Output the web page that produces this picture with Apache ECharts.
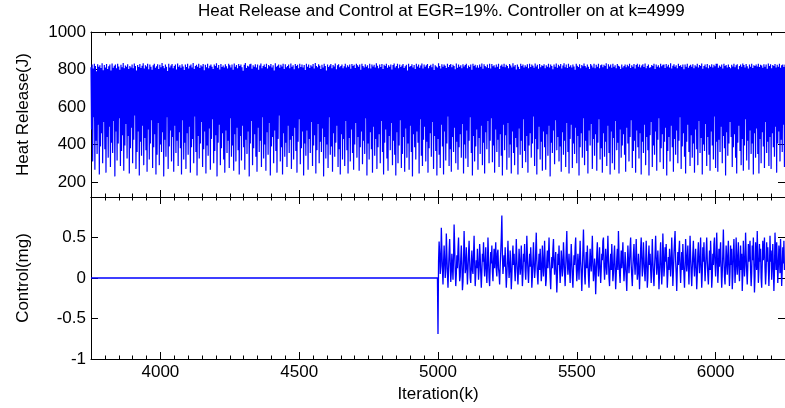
<!DOCTYPE html>
<html><head><meta charset="utf-8">
<script src="https://cdn.jsdelivr.net/npm/echarts@6/dist/echarts.min.js"></script>
<style>html,body{margin:0;padding:0;background:#fff}#c{width:785px;height:408px}</style>
</head><body><div id="c"></div>
<script>
// ---- data ----
const titleText = 'Heat Release and Control at EGR=19%. Controller on at k=4999';
const iterStart = 3750, iterEnd = 6250;
const heatStep = 2;
const ctrlStep = 2;
const xTicks = [4000, 4500, 5000, 5500, 6000];
const heatTicks = [200, 400, 600, 800, 1000];
const ctrlTicks = [-1, -0.5, 0, 0.5];
const heatRelease = [
812,480,826,310,805,545,831,265,818,420,790,350,828,505,815,240,822,390,808,460,833,300,796,520,
824,375,811,250,829,440,803,330,817,495,826,280,794,410,832,355,809,525,820,230,827,470,806,315,
830,405,816,540,799,285,825,365,812,450,834,260,807,395,821,510,815,325,828,445,802,245,819,380,
811,490,827,300,806,425,832,555,818,270,795,360,824,470,813,235,829,415,808,340,820,500,833,290,
805,435,822,370,816,255,830,480,801,320,826,405,814,530,798,275,823,385,831,455,809,240,817,345,
828,515,803,290,825,400,812,360,834,465,819,230,807,425,826,335,815,545,792,270,830,390,811,475,
821,310,829,440,806,255,818,500,827,355,800,420,832,285,814,465,823,380,809,240,828,530,816,320,
797,410,826,270,813,460,831,345,805,495,820,250,827,385,811,430,834,300,802,550,819,360,825,235,
814,445,830,325,808,405,822,520,816,280,829,375,796,470,825,245,812,395,831,340,806,485,820,265,
827,430,815,535,803,300,826,365,818,450,833,230,809,410,824,505,800,290,829,380,813,460,821,320,
810,250,828,475,817,355,805,420,830,275,822,540,811,335,826,395,798,260,832,455,815,310,824,490,
806,370,829,240,819,445,827,315,812,500,793,385,825,265,834,425,808,350,820,470,816,230,828,405,
831,525,804,290,823,380,815,455,828,335,810,255,826,490,799,360,821,420,832,280,807,545,818,325,
826,400,813,260,830,465,805,345,824,515,817,235,829,390,811,440,822,300,795,475,833,365,814,250,
820,430,827,555,809,310,825,385,816,240,831,460,803,335,828,410,812,280,819,500,826,355,807,425,
832,270,815,445,823,320,801,490,829,365,818,250,825,415,806,535,830,295,813,380,827,470,810,235,
824,405,797,340,831,475,814,265,826,430,808,355,822,520,816,285,829,395,805,450,834,245,819,370,
812,510,828,300,820,415,803,360,825,485,811,230,830,440,818,325,794,400,827,275,813,545,821,345,
829,390,807,255,824,460,816,335,832,410,801,500,822,280,828,375,812,240,819,455,826,320,806,430,
817,285,830,525,810,370,823,245,815,435,827,310,804,480,829,355,818,265,825,400,808,515,831,330,
822,440,814,260,826,385,798,470,831,295,819,420,810,350,828,540,815,235,823,405,806,320,830,465,
805,375,827,250,816,495,825,340,811,430,833,270,820,385,807,455,826,300,813,525,829,360,802,240,
825,410,818,480,831,325,809,260,822,445,815,370,827,515,800,290,824,420,832,345,811,235,819,465,
830,300,806,395,826,530,813,275,821,350,829,440,808,255,817,485,825,330,795,405,831,265,814,500,
819,360,828,230,811,455,824,385,803,320,830,470,816,410,826,245,809,535,821,340,832,285,805,425,
827,495,815,310,822,415,829,250,806,380,818,460,825,335,812,520,831,270,797,445,823,365,816,235,
810,430,833,345,819,275,805,505,828,390,814,240,826,470,820,315,808,405,830,550,813,285,824,375,
829,255,812,440,825,360,818,490,801,300,832,415,809,265,827,385,815,455,822,330,806,510,828,245,
816,400,824,325,830,475,807,280,821,420,813,545,826,355,799,235,831,445,818,310,825,390,811,480,
823,265,809,435,827,350,815,500,832,290,804,410,828,245,819,465,812,375,826,525,808,300,830,420,
805,540,829,305,817,395,822,250,810,480,826,360,814,425,831,280,803,455,820,340,827,235,815,505,
830,370,812,450,825,265,818,515,806,330,829,400,821,245,811,470,833,355,816,290,824,435,800,385,
826,240,815,485,803,345,830,420,819,275,827,535,810,365,822,305,814,445,828,250,807,395,831,460,
813,330,826,405,820,550,809,285,832,430,816,240,825,375,804,495,829,320,812,415,822,260,818,470,
828,385,806,265,823,455,815,340,830,500,811,230,826,410,819,355,801,475,827,295,814,530,832,370,
809,440,825,310,817,390,829,255,805,465,821,345,833,420,812,280,826,515,808,360,830,245,815,430,
822,505,811,275,827,405,816,350,799,490,831,300,820,445,813,235,828,385,806,460,824,330,817,540,
832,290,818,420,810,365,826,245,815,475,803,395,829,510,821,270,811,430,830,340,807,455,825,260,
814,410,831,535,806,320,822,380,827,250,812,460,825,335,818,415,833,285,804,500,828,355,816,240,
826,470,809,300,830,435,814,265,823,525,807,370,829,410,820,245,816,480,802,330,827,395,811,455,
819,345,827,255,812,490,825,405,817,310,831,440,808,530,822,275,814,365,829,420,805,250,824,475,
830,385,815,325,826,460,810,240,821,415,828,355,813,505,832,290,806,440,818,370,827,235,809,450,
812,520,824,280,819,395,830,345,803,470,826,260,815,425,822,540,810,305,831,380,817,455,825,270,
827,415,808,490,829,235,816,365,825,440,811,310,833,500,805,385,820,255,828,430,814,345,822,475,
806,300,830,420,818,545,823,270,813,390,827,460,801,335,826,245,815,415,831,505,809,360,820,285,
825,450,814,330,828,405,807,250,822,480,816,375,830,290,811,525,824,355,819,435,832,240,804,400,
818,365,826,510,812,285,829,440,806,345,823,260,815,470,828,395,810,320,825,550,817,275,830,415,
831,255,809,425,821,360,814,495,827,300,805,445,830,380,818,235,824,465,811,340,826,405,813,520,
807,440,825,280,816,385,830,455,812,330,822,245,828,410,801,500,819,365,827,290,815,430,832,260,
824,395,811,535,829,315,817,420,805,265,826,475,814,350,831,405,808,240,823,460,818,330,827,485,
816,350,830,245,813,430,825,300,821,465,809,390,828,275,815,520,826,355,804,415,832,285,819,440,
828,270,806,460,824,385,818,335,829,495,811,250,825,405,815,470,830,310,809,425,822,360,827,505,
813,280,826
];
const ctrlOffIters = [3750, 4998];
const ctrlOffValues = [0, 0];
const ctrlOnStart = 5000;
const controlValues = [
-0.69,0.2,0.45,0.3,0.05,0.15,0.62,0.35,0.1,-0.08,0.18,0.4,0.22,0.0,0.12,0.55,0.3,0.05,-0.12,0.1,0.32,0.48,0.2,-0.05,0.08,
0.3,0.15,-0.02,0.25,0.66,0.4,0.1,-0.1,0.05,0.28,0.12,0.35,0.5,0.18,-0.04,0.02,0.24,0.4,0.2,-0.15,-0.05,0.2,0.58,0.3,0.06,
0.12,0.38,0.15,-0.08,0.1,0.3,0.46,0.22,0.0,-0.06,0.16,0.34,0.1,0.05,0.28,0.52,0.2,-0.1,0.04,0.22,0.12,0.36,0.18,-0.02,0.1,
0.42,0.28,0.06,-0.12,0.08,0.3,0.2,0.44,0.16,0.02,0.2,0.38,0.1,-0.06,0.14,0.5,0.26,0.0,-0.1,0.12,0.32,0.18,0.4,0.08,-0.04,
0.2,0.36,0.12,0.26,0.44,0.1,0.02,0.3,0.35,0.12,0.05,-0.08,0.15,0.32,0.5,0.77,0.3,0.05,0.06,0.28,0.14,0.38,0.1,-0.12,0.04,
0.22,0.46,0.2,0.0,0.1,0.34,0.12,-0.14,0.02,0.26,0.4,0.16,0.3,0.1,-0.04,0.18,0.48,0.24,0.06,-0.08,0.12,0.36,0.22,0.04,0.14,
0.4,0.15,-0.1,0.05,0.3,0.2,0.42,0.1,-0.02,0.16,0.52,0.28,0.08,-0.06,0.12,0.3,0.14,0.38,0.2,-0.12,0.02,0.24,0.44,0.16,0.0,
0.1,0.34,0.56,0.22,0.04,-0.08,0.14,0.3,0.1,0.36,0.18,-0.04,0.08,0.4,0.24,0.02,0.16,0.46,0.2,-0.1,-0.02,0.22,0.34,0.12,0.28,
0.5,0.2,0.0,-0.14,0.1,0.26,0.12,0.36,0.48,0.18,0.04,0.2,0.32,0.06,-0.18,0.02,0.3,0.16,0.4,0.12,-0.06,0.08,0.34,0.22,0.02,
0.14,0.44,0.26,0.06,-0.1,0.12,0.36,0.58,0.2,0.04,0.16,0.3,0.1,-0.06,0.18,0.42,0.22,0.0,-0.12,0.1,0.28,0.16,0.38,0.5,0.14,
-0.04,0.1,0.3,0.18,-0.02,0.22,0.46,0.2,0.06,-0.16,0.08,0.34,0.6,0.3,0.04,-0.08,0.16,0.32,0.12,0.4,0.2,0.02,-0.12,0.14,0.36,
0.2,0.08,0.28,0.52,0.18,-0.04,0.06,0.24,0.14,-0.2,0.04,0.3,0.44,0.16,0.02,0.18,0.38,0.12,-0.06,0.1,0.3,0.22,0.46,0.5,0.14,
-0.02,0.12,0.36,0.2,0.04,0.26,0.52,0.24,0.0,-0.1,0.14,0.3,0.1,0.42,0.2,-0.04,0.06,0.28,0.4,0.12,-0.14,0.04,0.24,0.36,0.1,
0.58,0.3,0.06,-0.06,0.16,0.34,0.12,0.26,0.44,0.14,-0.04,0.1,0.32,0.18,0.0,-0.16,0.12,0.4,0.22,0.06,0.2,0.38,0.5,0.16,0.02,
-0.1,0.14,0.3,0.42,0.18,0.04,0.22,0.48,0.2,-0.02,0.06,0.3,0.12,-0.14,0.08,0.36,0.5,0.24,0.02,0.14,0.44,0.26,0.08,-0.04,0.18,
0.46,0.2,-0.12,0.0,0.24,0.4,0.16,0.3,0.1,-0.06,0.18,0.48,0.22,0.02,-0.1,0.12,0.3,0.52,0.26,0.04,0.16,0.34,0.14,-0.14,0.06,
0.28,0.44,0.12,-0.08,0.1,0.55,0.3,0.02,0.14,0.38,0.2,0.42,0.16,-0.12,0.04,0.26,0.1,0.36,0.22,0.02,0.2,0.5,0.24,-0.1,0.08,
0.3,0.44,0.58,0.22,0.06,-0.16,0.1,0.32,0.16,0.34,0.46,0.12,-0.06,0.14,0.32,0.1,0.42,0.2,0.04,-0.12,0.16,0.48,0.26,0.08,0.24,
0.4,0.14,-0.08,0.2,0.52,0.28,0.06,-0.1,0.12,0.3,0.46,0.16,0.02,0.22,0.36,0.12,-0.14,0.04,0.3,0.44,0.2,0.06,0.24,0.5,0.14,
-0.12,0.06,0.38,0.2,0.44,0.18,-0.04,0.12,0.32,0.5,0.22,0.04,-0.08,0.14,0.34,0.1,0.46,0.24,-0.12,0.02,0.3,0.16,0.42,0.5,0.18,
0.02,0.2,0.56,0.28,-0.06,0.1,0.36,0.14,0.3,0.44,0.1,-0.12,0.06,0.3,0.6,0.26,0.02,-0.08,0.16,0.4,0.2,0.04,0.28,0.46,0.14,
-0.1,0.08,0.4,0.16,0.36,-0.14,0.02,0.3,0.48,0.2,-0.06,0.12,0.5,0.22,0.04,0.26,0.44,0.12,-0.04,0.18,0.4,0.1,0.3,-0.16,0.06,
0.46,0.24,0.02,0.16,0.56,0.3,0.08,-0.08,0.14,0.42,0.2,0.34,0.46,0.1,-0.1,0.06,0.4,0.22,0.5,0.16,-0.18,0.02,0.44,0.24,0.1,
0.58,0.26,-0.06,0.1,0.42,0.2,0.36,0.0,-0.12,0.16,0.46,0.22,0.32,0.5,0.12,-0.08,0.08,0.44,0.2,0.38,0.14,-0.1,0.12,0.52,0.2,
0.34,-0.02,0.16,0.42,0.14,-0.16,0.08,0.56,0.3,0.1,0.44,0.2,-0.06,0.14,0.4,0.26,0.06,0.48,0.2,-0.1,0.1,0.38,0.18,0.46,0.1
];

// ---- chart ----
const FONT = '"Liberation Sans", Arial, Helvetica, sans-serif';
const FS = 17;
const BLACK = '#000';
const fmt = v => String(v);

function xAxesFor(grid, pos, showLabels) {
  return [
    { gridIndex: grid, type: 'value', position: pos, min: iterStart, max: iterEnd, interval: 50,
      axisLine: { show: true, onZero: false, lineStyle: { color: BLACK, width: 1 } },
      axisTick: { show: true, inside: true, length: 3.5, lineStyle: { color: BLACK } },
      axisLabel: { show: showLabels, customValues: xTicks, formatter: fmt, margin: 5,
                   color: BLACK, fontFamily: FONT, fontSize: FS },
      splitLine: { show: false } },
    { gridIndex: grid, type: 'value', position: pos, min: iterStart, max: iterEnd,
      axisLine: { show: false, onZero: false },
      axisTick: { show: true, inside: true, length: 7, customValues: xTicks, lineStyle: { color: BLACK } },
      axisLabel: { show: false }, splitLine: { show: false } }
  ];
}
function yAxesFor(grid, mn, mx, ticks, name, nameGap) {
  const base = { gridIndex: grid, type: 'value', min: mn, max: mx,
    axisLine: { show: true, onZero: false, lineStyle: { color: BLACK, width: 1 } },
    axisTick: { show: true, inside: true, length: 7, customValues: ticks, lineStyle: { color: BLACK } },
    splitLine: { show: false } };
  return [
    Object.assign({}, base, { position: 'left', name: name, nameLocation: 'middle', nameGap: nameGap,
      nameTextStyle: { color: BLACK, fontFamily: FONT, fontSize: FS },
      axisLabel: { show: true, customValues: ticks, formatter: fmt, margin: 5,
                   color: BLACK, fontFamily: FONT, fontSize: FS } }),
    Object.assign({}, base, { position: 'right', axisLabel: { show: false } })
  ];
}

const heatData = heatRelease.map((v, i) => [iterStart + i * heatStep, v]);
const ctrlData = ctrlOffIters.map((k, i) => [k, ctrlOffValues[i]])
  .concat(controlValues.map((v, i) => [ctrlOnStart + i * ctrlStep, v]));

const xAxes = [].concat(
  xAxesFor(0, 'bottom', false), xAxesFor(0, 'top', false),
  xAxesFor(1, 'bottom', true), xAxesFor(1, 'top', false)
);
xAxes[4].name = 'Iteration(k)';
xAxes[4].nameLocation = 'middle';
xAxes[4].nameGap = 27;
xAxes[4].nameTextStyle = { color: BLACK, fontFamily: FONT, fontSize: FS };

const yAxes = [].concat(
  yAxesFor(0, 120, 1000, heatTicks, 'Heat Release(J)', 59),
  yAxesFor(1, -1, 1, ctrlTicks, 'Control(mg)', 59)
);

const chart = echarts.init(document.getElementById('c'), null, { renderer: 'canvas' });
chart.setOption({
  animation: false,
  backgroundColor: '#fff',
  title: { text: titleText, left: 198, top: 3, padding: 0,
           textStyle: { color: BLACK, fontFamily: FONT, fontSize: FS, fontWeight: 'normal' } },
  grid: [
    { left: 91, top: 32, width: 697, height: 165, containLabel: false },
    { left: 91, top: 197, width: 697, height: 162, containLabel: false }
  ],
  xAxis: xAxes,
  yAxis: yAxes,
  series: [
    { type: 'line', xAxisIndex: 0, yAxisIndex: 0, data: heatData, showSymbol: false, symbol: 'none',
      sampling: null, lineStyle: { color: '#0000ff', width: 1.2 }, silent: true, clip: true },
    { type: 'line', xAxisIndex: 4, yAxisIndex: 2, data: ctrlData, showSymbol: false, symbol: 'none',
      sampling: null, lineStyle: { color: '#0000ff', width: 1.3 }, silent: true, clip: true }
  ]
});
</script>
</body></html>
